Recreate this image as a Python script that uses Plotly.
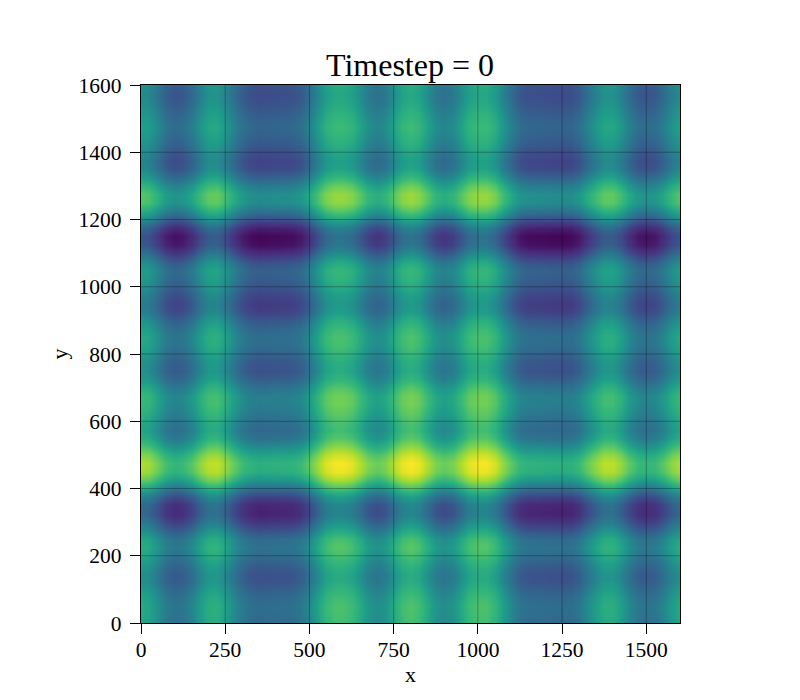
import numpy as np
import plotly.graph_objects as go

# grid positions, every 25 units
grid_x = list(range(0, 1625, 25))
grid_y = list(range(0, 1625, 25))

# field looks separable, so read one profile along each axis
x_profile = [.25, .23, .15, .07, .03, .05, .11, .20, .27, .28, .22, .13, .06, .02, 0, .005,
             .01, .012, .02, .05, .12, .23, .32, .36, .36, .33, .26, .18, .14, .17, .26, .34,
             .37, .34, .26, .17, .14, .17, .25, .33, .36, .36, .31, .21, .11, .04, .015, .012,
             .008, .003, 0, .01, .05, .13, .21, .27, .27, .21, .12, .05, .03, .05, .11, .20, .25]

y_profile = [.33, .345, .35, .33, .29, .25, .25, .29, .34, .37, .34, .25, .15, .09, .10, .19,
             .34, .51, .61, .63, .57, .46, .37, .33, .35, .39, .42, .42, .37, .29, .25, .26,
             .30, .34, .35, .32, .26, .19, .17, .20, .25, .29, .30, .24, .12, .03, .01, .08,
             .22, .37, .47, .48, .41, .30, .22, .20, .23, .27, .30, .32, .30, .27, .24, .23, .25]

x_ticks = [0, 250, 500, 750, 1000, 1250, 1500]
y_ticks = [0, 200, 400, 600, 800, 1000, 1200, 1400, 1600]

z = np.add.outer(np.array(y_profile), np.array(x_profile))

fig = go.Figure(go.Heatmap(x=grid_x, y=grid_y, z=z, colorscale="Viridis", zmin=0, zmax=1,
                           zsmooth="best", showscale=False, hoverinfo="skip"))

# gridlines sit on top of the image in the original
grid_line = dict(color="rgba(0,0,0,0.28)", width=1)
for t in x_ticks[1:]:
    fig.add_vline(x=t, line=grid_line)
for t in y_ticks[1:-1]:
    fig.add_hline(y=t, line=grid_line)

axis_style = dict(showline=True, linecolor="black", linewidth=1.2, mirror=True, ticks="outside",
                  ticklen=10, tickwidth=1.2, tickcolor="black", showgrid=False, zeroline=False,
                  tickfont=dict(size=21.5, color="black"))

fig.update_layout(
    width=800, height=700, autosize=False,
    margin=dict(l=132.5, r=127.5, t=77, b=84.5),
    paper_bgcolor="white", plot_bgcolor="white",
    font=dict(family="Liberation Serif", color="black"),
    title=dict(text="Timestep = 0", font=dict(size=32), x=0.5025, xanchor="center",
               y=0.9186, yanchor="middle"),
    xaxis=dict(range=[0, 1600], tickvals=x_ticks, ticktext=[str(t) for t in x_ticks],
               ticklabelstandoff=-3,
               title=dict(text="x", font=dict(size=22), standoff=1), **axis_style),
    yaxis=dict(range=[0, 1600], tickvals=y_ticks, ticktext=[str(t) for t in y_ticks],
               ticklabelstandoff=4,
               title=dict(text="y", font=dict(size=22), standoff=4), **axis_style),
)

fig.write_html("out.html")
